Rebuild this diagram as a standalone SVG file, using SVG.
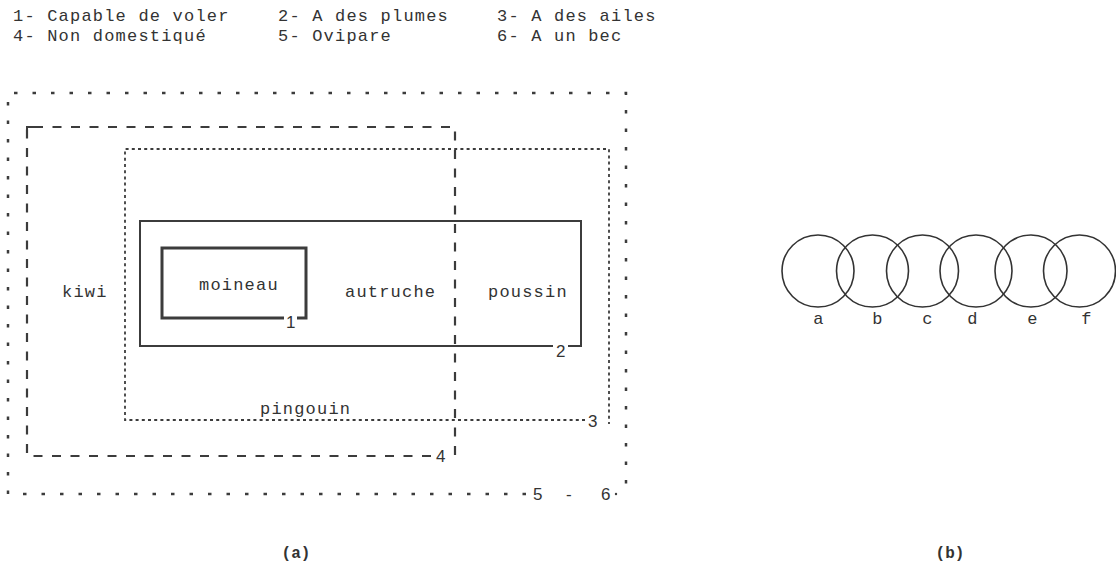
<svg xmlns="http://www.w3.org/2000/svg" width="1116" height="566" viewBox="0 0 1116 566">
<style>
.t{font-family:"Liberation Mono","DejaVu Sans Mono",monospace;font-size:17px;letter-spacing:1.2px;fill:#333}
.n{font-family:"Liberation Sans",Arial,sans-serif;font-size:17px;fill:#333}
.lab{font-family:"Liberation Mono","DejaVu Sans Mono",monospace;font-size:16px;font-weight:bold;fill:#333}
.solid{fill:none;stroke:#3c3c3c}
.s1{stroke-width:3}
.s2{stroke-width:2}
.d3{fill:none;stroke:#3c3c3c;stroke-width:1.8;stroke-dasharray:3 3.2}
.d4{fill:none;stroke:#3c3c3c;stroke-width:2.2;stroke-dasharray:9 9.5}
.d5{fill:none;stroke:#3c3c3c;stroke-width:2.5;stroke-dasharray:3.5 15}
.c{fill:none;stroke:#333;stroke-width:1.6}
</style>
<rect width="1116" height="566" fill="#fff"/>
<g id="legend">
<text class="t" x="13" y="21">1- Capable de voler</text>
<text class="t" x="278" y="21">2- A des plumes</text>
<text class="t" x="497" y="21">3- A des ailes</text>
<text class="t" x="13" y="41">4- Non domestiqué</text>
<text class="t" x="278" y="41">5- Ovipare</text>
<text class="t" x="497" y="41">6- A un bec</text>
</g>
<g id="set-5-6">
<path class="d5" d="M526,494 H8 V93 H626 V490"/>
<text class="n" y="500"><tspan x="533">5</tspan><tspan x="566">-</tspan><tspan x="601">6</tspan></text>
<circle cx="616" cy="494" r="1.2" fill="#3c3c3c"/>
</g>
<g id="set-4">
<path class="d4" d="M431,456 H27 V127 H455 V456 H450"/>
<path class="solid s2" d="M27,138 V127 H36"/>
<text class="n" x="436" y="462">4</text>
</g>
<g id="set-3">
<path class="d3" d="M585,420 H125 V149 H609 V424"/>
<text class="n" x="588" y="427">3</text>
</g>
<g id="set-2">
<path class="solid s2" d="M553,346 H140 V221 H581 V346 H568"/>
<text class="n" x="556" y="357">2</text>
</g>
<g id="set-1">
<path class="solid s1" d="M284,318 H162 V248 H306 V318 H297"/>
<text class="n" x="286" y="328">1</text>
</g>
<g id="kiwi"><text class="t" x="62" y="297">kiwi</text></g>
<g id="moineau"><text class="t" x="199" y="290">moineau</text></g>
<g id="autruche"><text class="t" x="345" y="297">autruche</text></g>
<g id="poussin"><text class="t" x="488" y="297">poussin</text></g>
<g id="pingouin"><text class="t" x="260" y="414">pingouin</text></g>
<g id="label-a"><text class="lab" x="296" y="558" text-anchor="middle">(a)</text></g>
<g id="circles">
<g id="circle-a"><circle class="c" cx="818" cy="271" r="36"/><text class="t" x="819" y="324" text-anchor="middle">a</text></g>
<g id="circle-b"><circle class="c" cx="872.5" cy="271" r="36"/><text class="t" x="878" y="324" text-anchor="middle">b</text></g>
<g id="circle-c"><circle class="c" cx="922.5" cy="271" r="36"/><text class="t" x="928" y="324" text-anchor="middle">c</text></g>
<g id="circle-d"><circle class="c" cx="976" cy="271" r="36"/><text class="t" x="973" y="324" text-anchor="middle">d</text></g>
<g id="circle-e"><circle class="c" cx="1031" cy="271" r="36"/><text class="t" x="1033" y="324" text-anchor="middle">e</text></g>
<g id="circle-f"><circle class="c" cx="1079.5" cy="271" r="36"/><text class="t" x="1087" y="324" text-anchor="middle">f</text></g>
</g>
<g id="label-b"><text class="lab" x="950" y="558" text-anchor="middle">(b)</text></g>
</svg>
